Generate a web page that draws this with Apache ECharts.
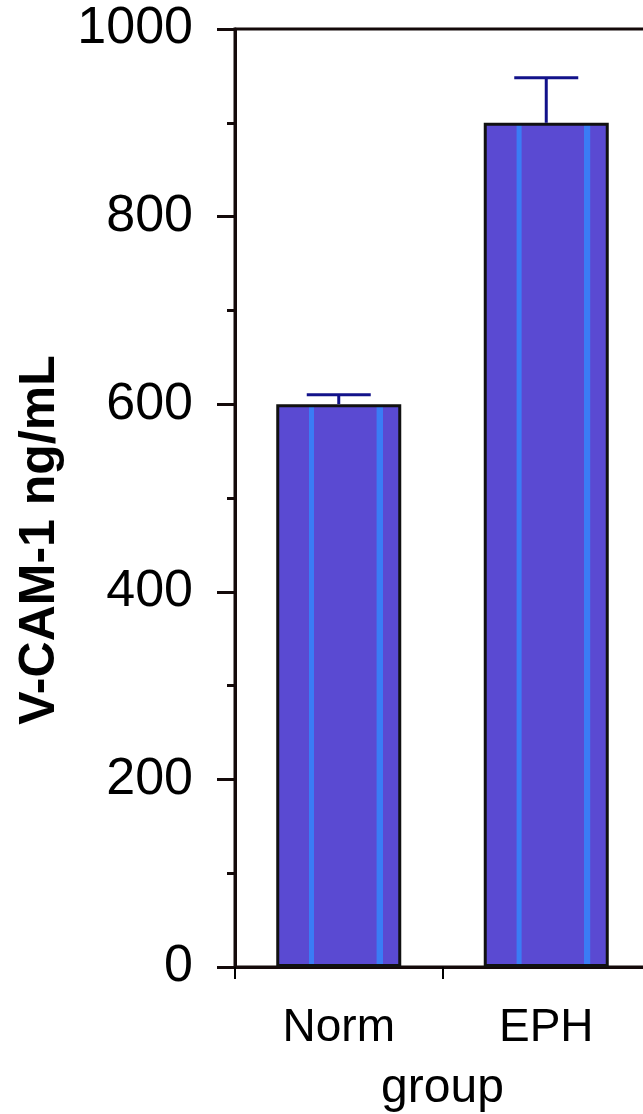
<!DOCTYPE html>
<html lang="en">
<head>
    <meta charset="UTF-8">
    <title>V-CAM-1</title>
    <script src="https://cdn.jsdelivr.net/npm/echarts@6/dist/echarts.min.js"></script>
    <style>
        body { margin: 0; background: #fff; }
        #chart { width: 643px; height: 1114px; }
    </style>
</head>
<body>
    <div id="chart"></div>
    <script type="text/javascript">
        // data
        var groups = ['Norm', 'EPH'];
        var means = [600, 900];
        var errors = [10, 48];
        var yTicks = [0, 200, 400, 600, 800, 1000];

        // bar fill: blue-purple with two light stripes
        var fill = new echarts.graphic.LinearGradient(0, 0, 1, 0, [
            { offset: 0, color: '#5a4ad2' },
            { offset: 0.26, color: '#5a4ad2' },
            { offset: 0.265, color: '#3a7cf5' },
            { offset: 0.3, color: '#3a7cf5' },
            { offset: 0.305, color: '#5a4ad2' },
            { offset: 0.8, color: '#5a4ad2' },
            { offset: 0.805, color: '#3a7cf5' },
            { offset: 0.85, color: '#3a7cf5' },
            { offset: 0.855, color: '#5a4ad2' },
            { offset: 1, color: '#5a4ad2' }
        ]);

        var chart = echarts.init(document.getElementById('chart'));
        chart.setOption({
            animation: false,
            grid: {
                left: 235, top: 29, bottom: 147, right: -7,
                outerBoundsMode: 'none',
                containLabel: false,
                show: true, borderColor: '#140a0a', borderWidth: 3
            },
            // y axis title sits a bit below the axis middle in the original
            graphic: [{
                type: 'text',
                x: 40,
                y: 540,
                rotation: Math.PI / 2,
                style: {
                    text: 'V-CAM-1 ng/mL',
                    fontFamily: 'Liberation Sans',
                    fontWeight: 'bold',
                    fontSize: 50,
                    fill: '#000',
                    align: 'center',
                    verticalAlign: 'middle'
                }
            }],
            xAxis: {
                type: 'category',
                data: groups,
                name: 'group',
                nameLocation: 'middle',
                nameGap: 98,
                nameTextStyle: { fontFamily: 'Liberation Sans', fontSize: 48, color: '#000' },
                axisLine: { lineStyle: { color: '#140a0a', width: 3 } },
                axisTick: { show: true, length: 12, lineStyle: { color: '#000', width: 2 } },
                axisLabel: { fontFamily: 'Liberation Sans', fontSize: 46, color: '#000', margin: 38 }
            },
            yAxis: {
                type: 'value',
                min: yTicks[0],
                max: yTicks[yTicks.length - 1],
                interval: 200,
                axisLine: { show: true, lineStyle: { color: '#140a0a', width: 3 } },
                axisTick: { show: true, length: 18, lineStyle: { color: '#140a0a', width: 3 } },
                minorTick: { show: true, splitNumber: 2, length: 8, lineStyle: { color: '#140a0a', width: 3 } },
                splitLine: { show: false },
                axisLabel: {
                    fontFamily: 'Liberation Sans', fontSize: 52, color: '#000', margin: 42,
                    formatter: function (v) { return String(v); }
                }
            },
            series: [
                {
                    type: 'bar',
                    data: means,
                    barWidth: 125,
                    itemStyle: { color: fill, borderColor: '#111', borderWidth: 3 },
                    z: 2
                },
                {
                    type: 'custom',
                    data: means.map(function (m, i) { return [i, m, m + errors[i]]; }),
                    renderItem: function (params, api) {
                        var base = api.coord([api.value(0), api.value(1)]);
                        var top = api.coord([api.value(0), api.value(2)]);
                        var half = 32;
                        var style = { stroke: '#12128a', lineWidth: 3 };
                        return {
                            type: 'group',
                            children: [
                                { type: 'line', shape: { x1: base[0], y1: base[1], x2: top[0], y2: top[1] }, style: style },
                                { type: 'line', shape: { x1: top[0] - half, y1: top[1], x2: top[0] + half, y2: top[1] }, style: style }
                            ]
                        };
                    },
                    z: 3
                }
            ]
        });
    </script>
</body>
</html>
